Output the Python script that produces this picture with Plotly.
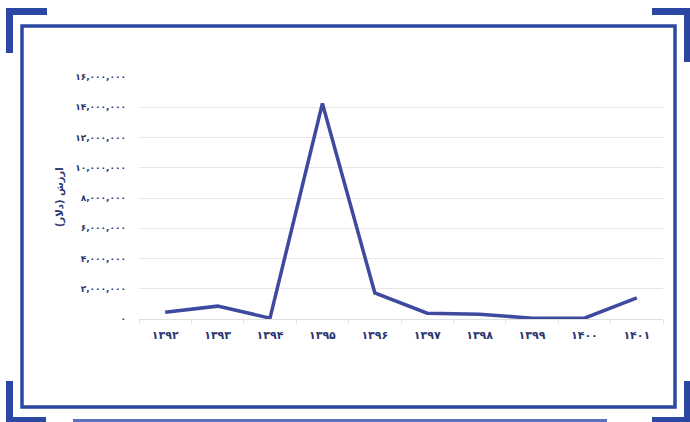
import plotly.graph_objects as go

years = ["۱۳۹۲", "۱۳۹۳", "۱۳۹۴", "۱۳۹۵", "۱۳۹۶", "۱۳۹۷", "۱۳۹۸", "۱۳۹۹", "۱۴۰۰", "۱۴۰۱"]
values = [450000, 850000, 60000, 14250000, 1730000, 380000, 320000, 50000, 50000, 1400000]

y_tickvals = [0, 2000000, 4000000, 6000000, 8000000, 10000000, 12000000, 14000000, 16000000]
y_ticktext = ["۰", "۲,۰۰۰,۰۰۰", "۴,۰۰۰,۰۰۰", "۶,۰۰۰,۰۰۰", "۸,۰۰۰,۰۰۰",
              "۱۰,۰۰۰,۰۰۰", "۱۲,۰۰۰,۰۰۰", "۱۴,۰۰۰,۰۰۰", "۱۶,۰۰۰,۰۰۰"]
y_title = "ارزش (دلار)"

W, H = 690, 422
L, R, T, B = 139, 27, 77, 103
TEXT = "#2b3570"
FRAME = "#2c47a3"
LINE = "#3d4a9e"


def px_x(x):
    return (x - L) / (W - L - R)


def px_y(y):
    return (H - B - y) / (H - T - B)


def rect(x0, y0, x1, y1, **kw):
    return dict(type="rect", xref="paper", yref="paper", layer="below",
                x0=px_x(x0), x1=px_x(x1), y0=px_y(y0), y1=px_y(y1), **kw)


fig = go.Figure()
fig.add_trace(
    go.Scatter(
        x=years,
        y=values,
        mode="lines",
        line=dict(color=LINE, width=3.5),
        hoverinfo="skip",
    )
)

solid = dict(fillcolor=FRAME, line=dict(width=0))
shapes = [
    # inner frame
    rect(22, 26, 675, 407, line=dict(color=FRAME, width=3.5), fillcolor="rgba(0,0,0,0)"),
    # corner brackets
    rect(6, 8, 47, 15, **solid), rect(6, 8, 13, 53, **solid),
    rect(652, 8, 690, 15, **solid), rect(684, 8, 690, 62, **solid),
    rect(6, 381, 13, 422, **solid), rect(6, 417, 46, 422, **solid),
    rect(684, 381, 690, 422, **solid), rect(652, 417, 690, 422, **solid),
    # bottom strip
    rect(73, 419, 607, 422, fillcolor="#5a72c0", line=dict(width=0)),
]

fig.update_layout(
    width=W,
    height=H,
    autosize=False,
    margin=dict(l=L, r=R, t=T, b=B),
    paper_bgcolor="white",
    plot_bgcolor="white",
    showlegend=False,
    shapes=shapes,
    font=dict(family="DejaVu Sans", color=TEXT),
    annotations=[
        dict(text=y_title, xref="paper", yref="paper", x=px_x(60), y=px_y(197),
             xanchor="center", yanchor="middle", textangle=-90, showarrow=False,
             font=dict(size=10, color=TEXT, family="DejaVu Sans", weight="bold")),
    ],
)
fig.update_xaxes(
    range=[-0.5, len(years) - 0.5],
    showgrid=False,
    showline=False,
    ticks="outside",
    tickson="boundaries",
    ticklen=4,
    tickcolor="#e3e3e3",
    ticklabelstandoff=8,
    tickfont=dict(size=11, color=TEXT, family="DejaVu Sans", weight="bold"),
)
fig.update_yaxes(
    range=[0, 16000000],
    tickvals=y_tickvals,
    ticktext=y_ticktext,
    showgrid=True,
    gridcolor="#e6e6e6",
    gridwidth=1,
    zeroline=True,
    zerolinecolor="#e0e0e0",
    zerolinewidth=1,
    ticks="",
    ticklabelstandoff=12,
    tickfont=dict(size=9, color=TEXT, family="DejaVu Sans", weight="bold"),
)

fig.write_html("out.html", config={"displayModeBar": False},
               post_script="document.body.style.margin='0';")
